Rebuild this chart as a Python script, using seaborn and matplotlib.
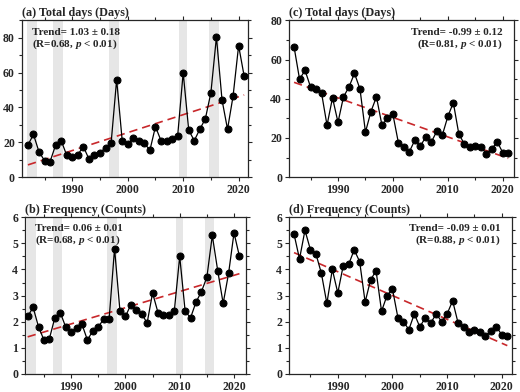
import numpy as np
import pandas as pd
import seaborn as sns
import matplotlib.pyplot as plt
from matplotlib.ticker import MultipleLocator

# years 1982-2021
years = list(range(1982, 2022))

# (a) total days, region 1
days_a = [18.5, 24.5, 14.5, 9.5, 9, 18.5, 21, 12.5, 11.5, 13,
          17.5, 10.5, 13, 14, 17, 19.5, 56, 21, 19, 22.5,
          21, 19.5, 15.5, 29, 21, 21, 22, 23.5, 60, 27,
          21, 27.5, 33.5, 48.5, 80.5, 44.5, 27.5, 46.5, 75.5, 58]
# (b) frequency, region 1
freq_b = [2.2, 2.55, 1.8, 1.3, 1.35, 2.15, 2.35, 1.8, 1.6, 1.75,
          1.9, 1.3, 1.65, 1.8, 2.1, 2.1, 4.8, 2.4, 2.2, 2.65,
          2.45, 2.3, 1.95, 3.1, 2.35, 2.25, 2.25, 2.4, 4.5, 2.4,
          2.15, 2.75, 3.15, 3.7, 5.3, 3.95, 2.7, 3.85, 5.4, 4.5]
# (c) total days, region 2
days_c = [66.5, 50, 54.5, 46, 45, 43, 26.5, 40.5, 28, 41,
          46, 53, 45, 23, 33.5, 41, 26.5, 30, 32, 17.5,
          15.5, 13, 19, 16, 20.5, 18, 23.5, 21.5, 31, 38,
          22, 17, 15.5, 16, 15.5, 12, 14.5, 18, 12.5, 12.5]
# (d) frequency, region 2
freq_d = [5.35, 4.4, 5.5, 4.75, 4.6, 3.85, 2.7, 4.0, 3.1, 4.15,
          4.2, 4.75, 4.3, 2.75, 3.6, 3.95, 2.4, 3.0, 3.25, 2.15,
          2.0, 1.7, 2.3, 1.8, 2.15, 1.95, 2.3, 2.0, 2.3, 2.8,
          1.95, 1.8, 1.6, 1.7, 1.6, 1.45, 1.65, 1.8, 1.5, 1.45]

# shaded periods (left panels only)
shade_spans = [(1981.9, 1983.6), (1986.6, 1988.3), (1996.7, 1998.5),
               (2009.3, 2010.6), (2014.6, 2016.4)]

titles = ['(a) Total days (Days)', '(b) Frequency (Counts)',
          '(c) Total days (Days)', '(d) Frequency (Counts)']
trend_text = ['Trend= 1.03 \u00b1 0.18', 'Trend= 0.06 \u00b1 0.01',
              'Trend= -0.99 \u00b1 0.12', 'Trend= -0.09 \u00b1 0.01']
r_text = ['(R=0.68, $p$ < 0.01)', '(R=0.68, $p$ < 0.01)',
          '(R=0.81, $p$ < 0.01)', '(R=0.88, $p$ < 0.01)']

sns.set_theme(style='ticks')
plt.rcParams['font.family'] = ['Liberation Serif', 'DejaVu Serif']
plt.rcParams['font.weight'] = 'bold'
plt.rcParams['mathtext.fontset'] = 'custom'
plt.rcParams['mathtext.it'] = 'Liberation Serif:italic:bold'
plt.rcParams['mathtext.rm'] = 'Liberation Serif:bold'

fig = plt.figure(figsize=(5.2, 3.92), dpi=100)
positions = [[0.042, 0.548, 0.435, 0.40],
             [0.048, 0.046, 0.425, 0.40],
             [0.556, 0.548, 0.432, 0.40],
             [0.556, 0.046, 0.428, 0.40]]
series = [days_a, freq_b, days_c, freq_d]
ylims = [(0, 90), (0, 6), (0, 80), (0, 6)]
ymajor = [20, 1, 20, 1]
yminor = [10, 0.5, 10, 0.5]
xlims = [(1980.9, 2021.7), (1981.5, 2022.2), (1981.1, 2022.0), (1981.1, 2021.8)]

for i in range(4):
    ax = fig.add_axes(positions[i])
    df = pd.DataFrame({'year': years, 'value': series[i]})
    if i < 2:
        for s0, s1 in shade_spans:
            ax.axvspan(s0, s1, color='#e6e6e6', lw=0, zorder=0)
    sns.regplot(data=df, x='year', y='value', ax=ax, scatter=False, ci=None,
                line_kws=dict(color='#c8282b', lw=1.2, ls=(0, (5, 3)), zorder=2))
    sns.lineplot(data=df, x='year', y='value', ax=ax, color='black', lw=0.9,
                 marker='o', markersize=5, markeredgecolor='black', zorder=3)
    ax.set_xlim(*xlims[i])
    ax.set_ylim(*ylims[i])
    ax.xaxis.set_major_locator(MultipleLocator(10))
    ax.xaxis.set_minor_locator(MultipleLocator(5))
    ax.yaxis.set_major_locator(MultipleLocator(ymajor[i]))
    ax.yaxis.set_minor_locator(MultipleLocator(yminor[i]))
    ax.tick_params(which='both', direction='out', top=True, right=True,
                   labelsize=8.5, width=0.8, pad=2)
    ax.tick_params(which='major', length=3)
    ax.tick_params(which='minor', length=2)
    for lab in ax.get_xticklabels() + ax.get_yticklabels():
        lab.set_fontweight('bold')
    for sp in ax.spines.values():
        sp.set_linewidth(0.9)
    ax.set_xlabel('')
    ax.set_ylabel('')
    ax.set_title(titles[i], loc='left', fontsize=8.7, fontweight='bold', pad=3)
    if i < 2:
        ax.text(0.045, 0.925, trend_text[i], transform=ax.transAxes, fontsize=8,
                fontweight='bold', va='center', ha='left')
        ax.text(0.045, 0.85, r_text[i], transform=ax.transAxes, fontsize=8,
                fontweight='bold', va='center', ha='left')
    else:
        ax.text(0.95, 0.925, trend_text[i], transform=ax.transAxes, fontsize=8,
                fontweight='bold', va='center', ha='right')
        ax.text(0.95, 0.85, r_text[i], transform=ax.transAxes, fontsize=8,
                fontweight='bold', va='center', ha='right')

fig.savefig('out.png', dpi=100)
